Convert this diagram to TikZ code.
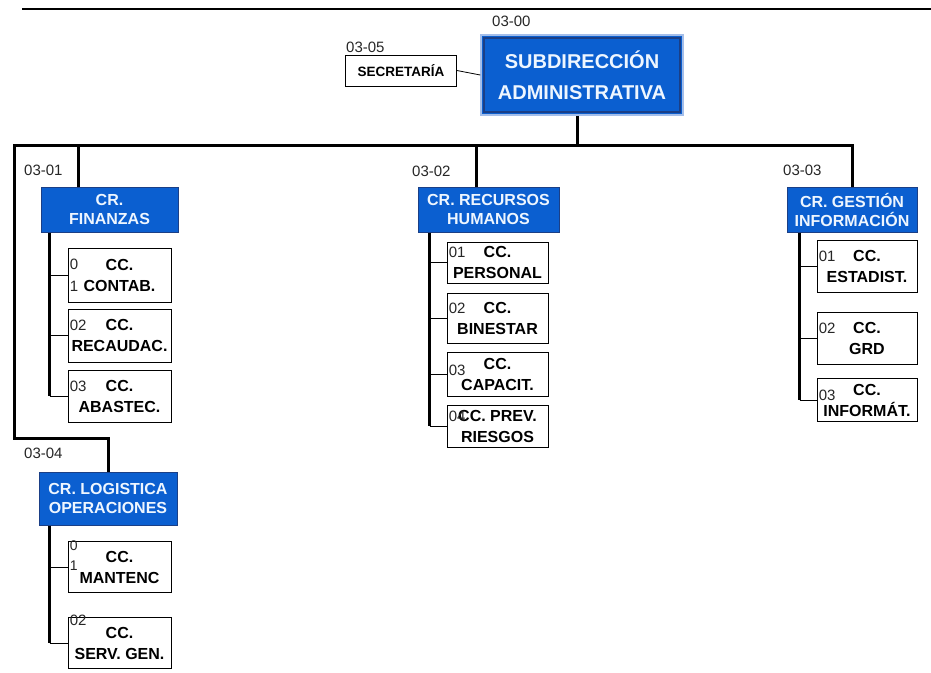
\documentclass[tikz,border=0pt]{standalone}
\usepackage{fontspec}
\setmainfont{Liberation Sans}
\definecolor{orgblue}{HTML}{0B5FD0}
\definecolor{orgnavy}{HTML}{1B3F86}
\definecolor{orgpale}{HTML}{A4BEEA}
\definecolor{orgtext}{HTML}{EEF6FF}
\tikzset{
  boss/.style={draw=orgpale,line width=1.5pt,fill=orgblue,text=orgtext,
    font=\fontsize{20}{31}\selectfont\bfseries,align=center,inner sep=0pt},
  head/.style={draw=orgnavy,line width=1pt,fill=orgblue,text=orgtext,
    font=\fontsize{16}{19}\selectfont\bfseries,align=center,inner sep=0pt},
  unit/.style={draw,line width=0.8pt,fill=white,
    font=\fontsize{16}{21}\selectfont\bfseries,align=center,inner sep=0pt},
  code/.style={font=\fontsize{15}{16}\selectfont,text=black!85,inner sep=0pt},
  num/.style={code,anchor=base west,xshift=2pt,yshift=4.75pt},
  twonum/.style={code,anchor=north west,align=left,xshift=2pt},
  trunk/.style={line width=3pt},
  twig/.style={line width=0.8pt},
}
\begin{document}
\begin{tikzpicture}[x=1pt,y=-1pt]
  \useasboundingbox (0,0) rectangle (931,672);
  \coordinate (rulel) at (22,9);
  \coordinate (ruler) at (931,9);
  \draw[line width=1.2pt] (rulel) -- (ruler);

  \node[boss,minimum width=202pt,minimum height=80pt] (sub) at (582,75)
    {SUBDIRECCIÓN\\ADMINISTRATIVA};
  \draw[orgnavy,line width=2pt] ([xshift=4pt,yshift=-4pt]sub.north west)
    rectangle ([xshift=-4pt,yshift=4pt]sub.south east);
  \node[code,anchor=base west] (c00) at (492,26) {03-00};
  \node[unit,font=\fontsize{13.5}{15}\selectfont\bfseries,minimum width=111pt,minimum height=31pt]
    (sec) at (401,70.5) {SECRETARÍA};
  \node[code,anchor=base west] (c05) at (346,52) {03-05};

  \node[head,minimum width=137pt,minimum height=45pt] (fin) at (109.5,209.5) {CR.\\FINANZAS};
  \node[head,minimum width=141pt,minimum height=45pt] (rh) at (488.5,209.5) {CR. RECURSOS\\HUMANOS};
  \node[head,minimum width=130pt,minimum height=45pt] (gi) at (852,209.5) {CR. GESTIÓN\\INFORMACIÓN};
  \node[head,minimum width=138pt,minimum height=53pt] (log) at (108,498.5) {CR. LOGISTICA\\OPERACIONES};
  \node[code,anchor=base west] (c01) at (24,175) {03-01};
  \node[code,anchor=base west] (c02) at (412,176) {03-02};
  \node[code,anchor=base west] (c03) at (783,175) {03-03};
  \node[code,anchor=base west] (c04) at (24,458) {03-04};

  \node[unit,minimum width=103pt,minimum height=54pt,
    label={[twonum,font=\fontsize{15}{22}\selectfont,yshift=-11pt]north west:0\\1}]
    (con) at (119.5,275) {CC.\\CONTAB.};
  \node[unit,minimum width=103pt,minimum height=53pt,label={[num]west:02}]
    (rec) at (119.5,335.5) {CC.\\RECAUDAC.};
  \node[unit,minimum width=103pt,minimum height=52pt,label={[num]west:03}]
    (aba) at (119.5,396) {CC.\\ABASTEC.};

  \node[unit,minimum width=101pt,minimum height=41pt,label={[num]west:01}]
    (per) at (497.5,262.5) {CC.\\PERSONAL};
  \node[unit,minimum width=101pt,minimum height=50pt,label={[num]west:02}]
    (bin) at (497.5,318) {CC.\\BINESTAR};
  \node[unit,minimum width=101pt,minimum height=44pt,label={[num,yshift=-6pt]west:03}]
    (cap) at (497.5,374) {CC.\\CAPACIT.};
  \node[unit,minimum width=101pt,minimum height=42pt,label={[num]west:04}]
    (rie) at (497.5,426) {CC. PREV.\\RIESGOS};

  \node[unit,minimum width=100pt,minimum height=52pt,label={[num]west:01}]
    (est) at (867,266) {CC.\\ESTADIST.};
  \node[unit,minimum width=100pt,minimum height=52pt,label={[num]west:02}]
    (grd) at (867,338) {CC.\\GRD};
  \node[unit,minimum width=100pt,minimum height=43pt,label={[num,yshift=-5pt]west:03}]
    (inf) at (867,400) {CC.\\INFORMÁT.};

  \node[unit,minimum width=103pt,minimum height=51pt,
    label={[twonum,font=\fontsize{14}{20}\selectfont,yshift=1pt]north west:0\\1}]
    (man) at (119.5,567) {CC.\\MANTENC};
  \node[unit,minimum width=103pt,minimum height=51pt,label={[twonum,yshift=2pt]north west:02}]
    (ser) at (119.5,643) {CC.\\SERV. GEN.};

  \coordinate (hub) at (577,145);
  \coordinate (west) at (14,145);
  \coordinate (lbend) at (14,438);
  \coordinate (fdrop) at (78,145);
  \coordinate (rdrop) at (476,145);
  \coordinate (east) at (gi.north |- hub);
  \coordinate (ft) at ([xshift=9pt]fin.south west);
  \coordinate (rt) at ([xshift=12pt]rh.south west);
  \coordinate (gt) at ([xshift=13pt]gi.south west);
  \coordinate (lt) at ([xshift=11pt]log.south west);

  \begin{scope}[twig]
    \draw (sec.east) -- (sub.west);
    \draw (ft |- con.west) -- (con.west);
    \draw (ft |- rec.west) -- (rec.west);
    \draw (ft |- aba.west) -- (aba.west);
    \draw (rt |- per.west) -- (per.west);
    \draw (rt |- bin.west) -- (bin.west);
    \draw (rt |- cap.west) -- (cap.west);
    \draw (rt |- rie.west) -- (rie.west);
    \draw (gt |- est.west) -- (est.west);
    \draw (gt |- grd.west) -- (grd.west);
    \draw (gt |- inf.west) -- (inf.west);
    \draw (lt |- man.west) -- (man.west);
    \draw (lt |- ser.west) -- (ser.west);
  \end{scope}
  \begin{scope}[trunk]
    \draw ([xshift=-5pt]sub.south) -- (hub);
    \draw (log.north) |- (lbend) -- (west) -- (east) -- (gi.north);
    \draw (fdrop) -- (fdrop |- fin.north);
    \draw (rdrop) -- (rdrop |- rh.north);
    \draw (ft) -- (ft |- aba.west);
    \draw (rt) -- (rt |- rie.west);
    \draw (gt) -- (gt |- inf.west);
    \draw (lt) -- (lt |- ser.west);
  \end{scope}
\end{tikzpicture}
\end{document}
